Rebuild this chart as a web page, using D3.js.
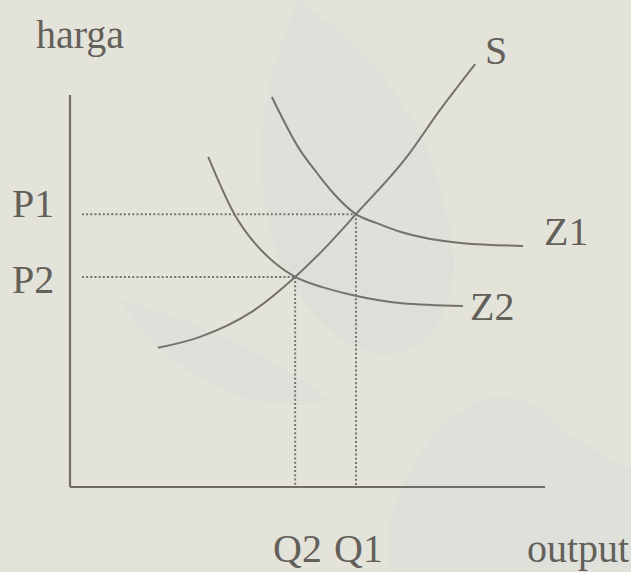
<!DOCTYPE html>
<html>
<head>
<meta charset="utf-8">
<script src="https://cdn.jsdelivr.net/npm/d3@7"></script>
<style>
  body { margin: 0; background: #e3e3da; }
  svg { display: block; }
  .curve { fill: none; stroke: #75726b; stroke-width: 2; }
  .guide { fill: none; stroke: #77746d; stroke-width: 2; stroke-dasharray: 2 2.2; }
  .axis-line { stroke: #6f6c66; stroke-width: 2.2; }
  .lbl { font-family: "Liberation Serif", "Times New Roman", serif; font-size: 40px; fill: #63605a; }
</style>
</head>
<body>
<div id="chart"></div>
<script>
//curve points (quantity, price)
var supply = [[1.85, 3.55], [2.74, 3.83], [3.79, 4.44], [4.74, 5.36], [5.33, 6.05], [6.02, 6.96], [7.09, 8.42], [7.79, 9.62], [8.53, 10.79]];
var demandZ1 = [[4.25, 9.95], [4.84, 8.60], [5.20, 8.01], [5.54, 7.50], [6.02, 6.96], [6.46, 6.73], [6.95, 6.51], [8.27, 6.22], [9.54, 6.15]];
var demandZ2 = [[2.91, 8.42], [3.47, 6.94], [3.89, 6.22], [4.32, 5.71], [4.74, 5.36], [5.31, 5.10], [5.94, 4.90], [6.99, 4.69], [8.27, 4.62]];

//equilibrium points
var equilibria = [
  {q: 6.02, p: 6.96, qLabel: 'Q1', pLabel: 'P1'},
  {q: 4.74, p: 5.36, qLabel: 'Q2', pLabel: 'P2'}
];

var width = 631,
    height = 572;

var svg = d3.select('#chart').append('svg')
    .attr('width', width)
    .attr('height', height);

svg.append('rect')
    .attr('width', width)
    .attr('height', height)
    .attr('fill', '#e3e3da');

//faint watermark leaves behind the chart
var wm = svg.append('g').attr('opacity', 0.25);
wm.append('path')
    .attr('d', 'M300,0 C240,120 250,260 330,330 C400,390 470,330 450,230 C430,120 380,60 300,0 Z')
    .attr('fill', '#d3d7d9');
wm.append('path')
    .attr('d', 'M560,430 C520,380 470,390 430,440 C400,480 380,530 390,572 L631,572 L631,470 Z')
    .attr('fill', '#d6d9da');
wm.append('path')
    .attr('d', 'M120,300 C170,380 260,420 330,400 C280,360 200,320 120,300 Z')
    .attr('fill', '#d5d8d9');

var x = d3.scaleLinear()
    .domain([0, 10])
    .range([70, 545]);

var y = d3.scaleLinear()
    .domain([0, 10])
    .range([487, 95]);

//axes: plain lines without ticks
svg.append('line')
    .attr('class', 'axis-line')
    .attr('x1', x(0)).attr('x2', x(0))
    .attr('y1', y(10)).attr('y2', y(0));

svg.append('line')
    .attr('class', 'axis-line')
    .attr('x1', x(0)).attr('x2', x(10))
    .attr('y1', y(0)).attr('y2', y(0));

//dotted guides
equilibria.forEach(function(d){
  svg.append('line')
      .attr('class', 'guide')
      .attr('x1', x(0.25)).attr('x2', x(d.q))
      .attr('y1', y(d.p)).attr('y2', y(d.p));
  svg.append('line')
      .attr('class', 'guide')
      .attr('x1', x(d.q)).attr('x2', x(d.q))
      .attr('y1', y(d.p)).attr('y2', y(0));
});

var line = d3.line()
    .x(function(d){ return x(d[0]); })
    .y(function(d){ return y(d[1]); })
    .curve(d3.curveMonotoneX);

[supply, demandZ1, demandZ2].forEach(function(pts){
  svg.append('path')
      .attr('class', 'curve')
      .attr('d', line(pts));
});

//labels
function label(txt, px, py, anchor) {
  svg.append('text')
      .attr('class', 'lbl')
      .attr('x', px)
      .attr('y', py)
      .attr('text-anchor', anchor || 'start')
      .text(txt);
}

label('harga', 36, 48);
label('S', 485, 64);
label('Z1', 544, 245);
label('Z2', 470, 320);
label('output', 527, 562);

equilibria.forEach(function(d){
  label(d.pLabel, 12, y(d.p) + (d.pLabel === 'P1' ? 3 : 16));
});
label('Q2', 273, 562);
label('Q1', 334, 562);
</script>
</body>
</html>
